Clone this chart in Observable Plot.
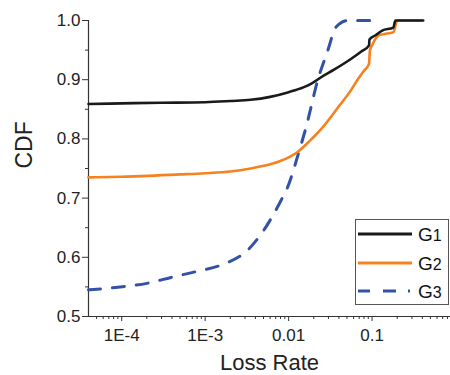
<!DOCTYPE html>
<html>
<head>
<meta charset="utf-8">
<script src="https://cdn.jsdelivr.net/npm/d3@7"></script>
<script src="https://cdn.jsdelivr.net/npm/@observablehq/plot@0.6"></script>
<style>
  html, body { margin: 0; padding: 0; background: #fff; }
  #wrap { position: relative; width: 450px; height: 375px; font-family: "Liberation Sans", Arial, sans-serif; }
  #legend { position: absolute; left: 355px; top: 219px; width: 94px; height: 86px; border: 1px solid #555; background: #fff; box-sizing: border-box; }
  .item { position: absolute; left: 0; height: 20px; width: 100%; }
  .item svg { position: absolute; left: 1px; top: 0; }
  .item span { position: absolute; left: 62px; top: 1px; font-size: 19px; line-height: 20px; color: #111; white-space: nowrap; }
  .item span sub { font-size: 16px; vertical-align: baseline; }
</style>
</head>
<body>
<div id="wrap"></div>
<script>
// ---- data ----
const seriesNames = ["G1", "G2", "G3"];
const seriesColors = ["#1a1a1a", "#f5821f", "#3352a6"];

const g1X = [4e-5, 1e-4, 3e-4, 1e-3, 2e-3, 3.5e-3, 6e-3, 0.01, 0.015, 0.0185, 0.025, 0.035, 0.0557, 0.075, 0.092, 0.093, 0.11, 0.132, 0.18, 0.19, 0.25, 0.41];
const g1Y = [0.859, 0.860, 0.861, 0.862, 0.864, 0.866, 0.871, 0.879, 0.887, 0.893, 0.905, 0.917, 0.935, 0.948, 0.958, 0.968, 0.975, 0.983, 0.988, 1.0, 1.0, 1.0];

const g2X = [4e-5, 1e-4, 5e-4, 1e-3, 2e-3, 3.5e-3, 6e-3, 0.0081, 0.0128, 0.018, 0.0265, 0.04, 0.0557, 0.067, 0.08, 0.092, 0.094, 0.1, 0.12, 0.15, 0.18, 0.2, 0.25, 0.39];
const g2Y = [0.735, 0.736, 0.740, 0.742, 0.745, 0.750, 0.757, 0.763, 0.778, 0.797, 0.822, 0.855, 0.882, 0.900, 0.915, 0.927, 0.949, 0.958, 0.975, 0.978, 0.980, 1.0, 1.0, 1.0];

const g3X = [4e-5, 9e-5, 2e-4, 3.9e-4, 8.1e-4, 1.7e-3, 3.2e-3, 5e-3, 8.1e-3, 9.7e-3, 0.0134, 0.0162, 0.0223, 0.0294, 0.037, 0.051, 0.13];
const g3Y = [0.545, 0.5495, 0.556, 0.566, 0.5765, 0.589, 0.6115, 0.645, 0.696, 0.718, 0.780, 0.820, 0.899, 0.949, 0.989, 1.0, 1.0];

const xMajorTicks = [1e-4, 1e-3, 1e-2, 1e-1];
const xTickLabels = ["1E-4", "1E-3", "0.01", "0.1"];
const yMajorTicks = [0.5, 0.6, 0.7, 0.8, 0.9, 1.0];
const yMinorTicks = [0.55, 0.65, 0.75, 0.85, 0.95];
const xLabel = "Loss Rate";
const yLabel = "CDF";

// ---- build ----
const xDomain = [4e-5, 0.87];
const xMinorTicks = [];
for (const dec of [1e-5, 1e-4, 1e-3, 1e-2, 1e-1]) {
  for (let k = 2; k <= 9; k++) {
    const v = k * dec;
    if (v > xDomain[0] && v < xDomain[1]) xMinorTicks.push(v);
  }
}
const toRows = (xs, ys) => xs.map((x, i) => ({x, y: ys[i]}));
const rows = [toRows(g1X, g1Y), toRows(g2X, g2Y), toRows(g3X, g3Y)];

const chart = Plot.plot({
  width: 450,
  height: 375,
  marginLeft: 88,
  marginRight: 0,
  marginTop: 20,
  marginBottom: 59,
  x: {type: "log", domain: xDomain},
  y: {domain: [0.5, 1.0]},
  style: {fontFamily: "'Liberation Sans', Arial, sans-serif", fontSize: "17px", background: "#fff", color: "#222"},
  marks: [
    Plot.axisY({ticks: yMajorTicks, tickSize: 6, tickPadding: 2, tickFormat: d => d.toFixed(1), label: null, fontSize: 17, stroke: "#333"}),
    Plot.axisY({ticks: yMinorTicks, tickSize: 3, tickFormat: () => "", label: null, stroke: "#333"}),
    Plot.axisX({ticks: xMajorTicks, tickSize: 5, tickPadding: 7, tickFormat: d => xTickLabels[xMajorTicks.indexOf(d)], label: null, fontSize: 17, stroke: "#333"}),
    Plot.axisX({ticks: xMinorTicks, tickSize: 3, tickFormat: () => "", label: null, stroke: "#333"}),
    Plot.ruleX([xDomain[0]], {y1: 0.5, y2: 1.0, stroke: "#333", strokeWidth: 1.2}),
    Plot.ruleY([0.5], {stroke: "#333", strokeWidth: 1.2}),
    Plot.line(rows[2], {x: "x", y: "y", stroke: seriesColors[2], strokeWidth: 3, strokeDasharray: "12,12", curve: "monotone-x"}),
    Plot.line(rows[1], {x: "x", y: "y", stroke: seriesColors[1], strokeWidth: 2.6, curve: "monotone-x"}),
    Plot.line(rows[0], {x: "x", y: "y", stroke: seriesColors[0], strokeWidth: 2.6, curve: "monotone-x"}),
    Plot.text([xLabel], {frameAnchor: "bottom", lineAnchor: "middle", dy: 46, fontSize: 22, fill: "#222"}),
    Plot.text([yLabel], {frameAnchor: "left", lineAnchor: "middle", dx: -64, rotate: -90, fontSize: 23, fill: "#222"})
  ]
});

const wrap = document.getElementById("wrap");
wrap.appendChild(chart);

// legend
const legend = document.createElement("div");
legend.id = "legend";
const dashes = ["", "", "12,13,13,12,2,20"];
const tops = [4, 33, 61];
seriesNames.forEach((name, i) => {
  const item = document.createElement("div");
  item.className = "item";
  item.style.top = tops[i] + "px";
  item.innerHTML = `<svg width="56" height="20"><line x1="1" y1="10" x2="55" y2="10" stroke="${seriesColors[i]}" stroke-width="2.8" ${dashes[i] ? `stroke-dasharray="${dashes[i]}"` : ""}/></svg><span>${name[0]}<sub>${name.slice(1)}</sub></span>`;
  legend.appendChild(item);
});
wrap.appendChild(legend);
</script>
</body>
</html>
